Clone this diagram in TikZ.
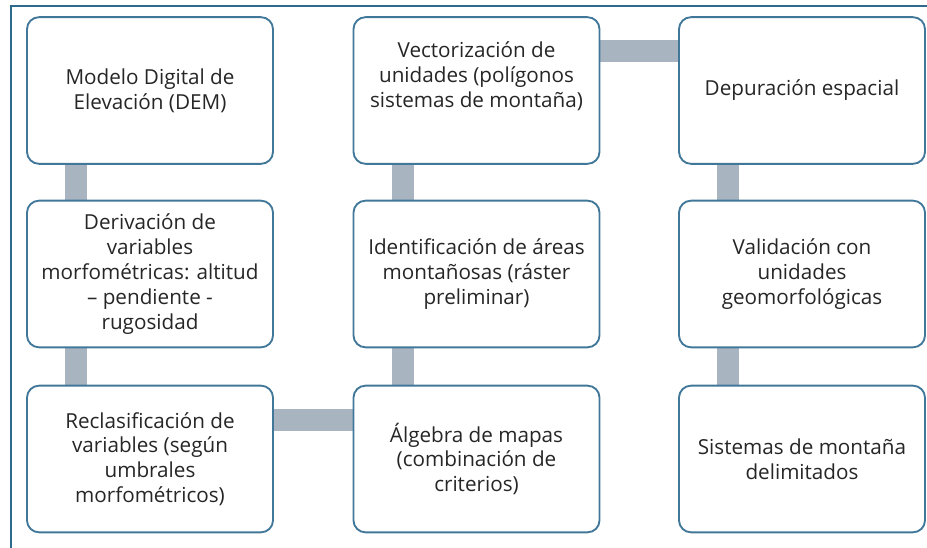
\documentclass[tikz,border=0pt]{standalone}
\usepackage{fontspec}
\setmainfont{Open Sans}
\usetikzlibrary{calc,backgrounds}
\definecolor{borde}{RGB}{65,120,154}
\definecolor{marco}{RGB}{46,106,140}
\definecolor{barra}{RGB}{169,180,193}
\definecolor{texto}{RGB}{38,38,38}
\begin{document}
\begin{tikzpicture}[x=0.75pt,y=0.75pt,yscale=-1,xscale=1,
  paso/.style={draw=borde,line width=1.4pt,fill=white,rounded corners=9pt,minimum width=184.5pt,minimum height=110pt,align=center,text=texto,font=\fontsize{15.5}{18.6}\selectfont,inner sep=0pt},
  union/.style={draw=barra,line width=16.5pt}]
\useasboundingbox (0,0) rectangle (927,548);
\draw [marco,line width=1.5pt] (11,580) -- (11,6.5) -- (960,6.5);
\draw (150,90.5) node [paso] (dem) {Modelo Digital de\\Elevación (DEM)};
\draw (150,274) node [paso] (deriv) {Derivación de\\variables\\morfométricas: altitud\\– pendiente -\\rugosidad};
\draw (150,459) node [paso] (recl) {Reclasificación de\\variables (según\\umbrales\\morfométricos)};
\draw (476.5,459) node [paso] (alg) {Álgebra de mapas\\(combinación de\\criterios)};
\draw (476.5,274) node [paso] (ident) {Identificación de áreas\\montañosas (ráster\\preliminar)};
\draw (476.5,90.5) node [paso] (vect) {};
\draw (476.5,76) node [text=texto,align=center,font=\fontsize{15.5}{18.6}\selectfont] (vecttxt) {Vectorización de\\unidades (polígonos\\sistemas de montaña)};
\draw (802,90.5) node [paso] (depur) {Depuración espacial};
\draw (802,274) node [paso] (valid) {Validación con\\unidades\\geomorfológicas};
\draw (802,459) node [paso] (sist) {Sistemas de montaña\\delimitados};
\begin{pgfonlayer}{background}
\draw [union] ($(dem.south west)+(50,0)$) -- ($(deriv.north west)+(50,0)$);
\draw [union] ($(deriv.south west)+(50,0)$) -- ($(recl.north west)+(50,0)$);
\draw [union] ($(recl.north east)+(0,35)$) -- ($(alg.north west)+(0,35)$);
\draw [union] ($(alg.north west)+(50,0)$) -- ($(ident.south west)+(50,0)$);
\draw [union] ($(ident.north west)+(50,0)$) -- ($(vect.south west)+(50,0)$);
\draw [union] ($(vect.north east)+(0,35)$) -- ($(depur.north west)+(0,35)$);
\draw [union] ($(depur.south west)+(50,0)$) -- ($(valid.north west)+(50,0)$);
\draw [union] ($(valid.south west)+(50,0)$) -- ($(sist.north west)+(50,0)$);
\end{pgfonlayer}
\end{tikzpicture}
\end{document}
